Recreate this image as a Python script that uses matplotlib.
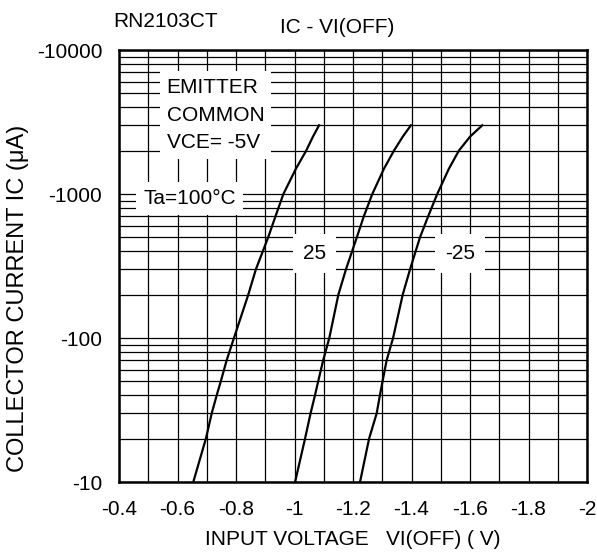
import numpy as np
import matplotlib.pyplot as plt
from matplotlib.ticker import FixedLocator, NullFormatter, LogLocator

plt.rcParams['font.family'] = ['Liberation Sans', 'DejaVu Sans']

# collector current magnitude (uA), same points for every curve
ic = [10, 20, 30, 40, 50, 70, 100, 200, 300, 500, 700, 1000, 1500,
      2000, 2500, 3000]

# input voltage VI(OFF) (V) for each ambient temperature
v_100 = [-0.654, -0.697, -0.717, -0.734, -0.748, -0.768, -0.793, -0.842,
         -0.868, -0.910, -0.935, -0.962, -1.005, -1.040, -1.063, -1.084]
v_25 = [-1.002, -1.036, -1.055, -1.070, -1.081, -1.098, -1.119, -1.150,
        -1.176, -1.213, -1.237, -1.266, -1.306, -1.340, -1.370, -1.398]
v_m25 = [-1.224, -1.255, -1.281, -1.292, -1.301, -1.315, -1.337, -1.370,
         -1.395, -1.429, -1.457, -1.488, -1.528, -1.562, -1.600, -1.642]

x_ticks = [-0.4, -0.6, -0.8, -1.0, -1.2, -1.4, -1.6, -1.8, -2.0]
x_labels = ["-0.4", "-0.6", "-0.8", "-1", "-1.2", "-1.4", "-1.6", "-1.8", "-2"]
y_ticks = [10, 100, 1000, 10000]
y_labels = ["-10", "-100", "-1000", "-10000"]

fs = 15

fig = plt.figure(figsize=(5.97, 5.59), dpi=100)
ax = fig.add_axes([119 / 597, 77 / 559, 468 / 597, 432 / 559])

for v in (v_100, v_25, v_m25):
    ax.plot(v, ic, color="black", lw=1.6, zorder=3)

ax.set_yscale("log")
ax.set_xlim(-0.4, -2.0)
ax.set_ylim(10, 10000)

ax.set_xticks(x_ticks)
ax.set_xticklabels(x_labels, fontsize=fs)
ax.set_yticks(y_ticks)
ax.set_yticklabels(y_labels, fontsize=fs)
ax.xaxis.set_minor_locator(FixedLocator(np.arange(-0.5, -2.0, -0.2)))
ax.yaxis.set_minor_locator(LogLocator(base=10, subs=np.arange(2, 10)))
ax.yaxis.set_minor_formatter(NullFormatter())
ax.tick_params(which="both", length=0)
ax.tick_params(axis="x", pad=13)
ax.tick_params(axis="y", pad=12)

ax.grid(True, which="both", color="black", lw=0.9)
ax.set_axisbelow(True)
for s in ax.spines.values():
    s.set_linewidth(1.8)

box = dict(facecolor="white", edgecolor="none", pad=5)
ax.text(0.102, 0.935, "EMITTER\nCOMMON\nVCE= -5V", transform=ax.transAxes,
        fontsize=fs, va="top", ha="left", linespacing=1.58, bbox=box, zorder=4)
ax.text(0.052, 0.643, "Ta=100°C", transform=ax.transAxes, fontsize=fs,
        va="baseline", ha="left", bbox=box, zorder=4)
ax.text(0.393, 0.516, "25", transform=ax.transAxes, fontsize=fs,
        va="baseline", ha="left", bbox=dict(facecolor="white", edgecolor="none", pad=7), zorder=4)
ax.text(0.697, 0.516, "-25", transform=ax.transAxes, fontsize=fs,
        va="baseline", ha="left", bbox=dict(facecolor="white", edgecolor="none", pad=7), zorder=4)

fig.text(113 / 597, 1 - 27 / 559, "RN2103CT", fontsize=fs, va="baseline", ha="left")
fig.text(280 / 597, 1 - 33 / 559, "IC - VI(OFF)", fontsize=fs, va="baseline", ha="left")
fig.text(353 / 597, 1 - 545 / 559, "INPUT VOLTAGE   VI(OFF) ( V)", fontsize=fs,
         va="baseline", ha="center")
fig.text(18 / 597, 1 - 298 / 559, "COLLECTOR CURRENT IC (μA)", fontsize=17,
         rotation=90, va="center", ha="center")

fig.savefig("out.png", dpi=100)
